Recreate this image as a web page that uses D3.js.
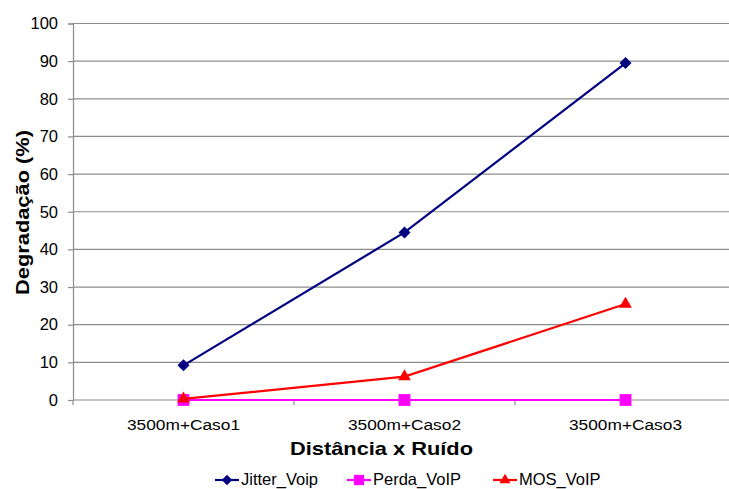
<!DOCTYPE html>
<html>
<head>
<meta charset="utf-8">
<script src="https://cdn.jsdelivr.net/npm/d3@7"></script>
<style>
  body { margin: 0; background: #fff; }
  text { font-family: Arial, "Liberation Sans", sans-serif; fill: #000; }
</style>
</head>
<body>
<svg id="chart" width="729" height="489"></svg>
<script>
const categories = ["3500m+Caso1", "3500m+Caso2", "3500m+Caso3"];
const jitterVoip = [9.2, 44.5, 89.5];
const perdaVoip = [0, 0, 0];
const mosVoip = [0.3, 6.2, 25.5];
const yTicks = [0, 10, 20, 30, 40, 50, 60, 70, 80, 90, 100];

// diamond = square turned 45 degrees
const series = [
  { name: "Jitter_Voip", values: jitterVoip, color: "#000080", marker: d3.symbolSquare, size: 72, rot: 45 },
  { name: "Perda_VoIP", values: perdaVoip, color: "#FF00FF", marker: d3.symbolSquare, size: 140, rot: 0 },
  { name: "MOS_VoIP", values: mosVoip, color: "#FF0000", marker: d3.symbolTriangle, size: 70, rot: 0 }
];

const svg = d3.select("#chart");
const margin = { top: 23.5, left: 73, bottom: 400, right: 736 };

// scales
const x = d3.scaleBand().domain(categories).range([margin.left, margin.right]);
const y = d3.scaleLinear().domain([0, 100]).range([margin.bottom, margin.top]);

// gridlines
svg.append("g")
  .selectAll("line")
  .data(yTicks)
  .join("line")
  .attr("x1", margin.left)
  .attr("x2", margin.right)
  .attr("y1", d => y(d))
  .attr("y2", d => y(d))
  .attr("stroke", "#8c8c8c")
  .attr("stroke-width", 1.2);

// y axis
const yAxis = svg.append("g")
  .attr("transform", `translate(${margin.left},0)`)
  .call(d3.axisLeft(y).tickValues(yTicks).tickSize(5).tickPadding(10));
yAxis.select(".domain").attr("stroke", "#8c8c8c").attr("stroke-width", 1.2);
yAxis.selectAll(".tick line").attr("stroke", "#8c8c8c").attr("stroke-width", 1.2);
yAxis.selectAll(".tick text")
  .style("font-size", "16.5px")
  .style("font-family", "Arial, 'Liberation Sans', sans-serif")
  .attr("fill", "#000");

// x axis
const xAxis = svg.append("g")
  .attr("transform", `translate(0,${margin.bottom})`)
  .call(d3.axisBottom(x).tickSize(0).tickPadding(19));
xAxis.select(".domain").remove();
xAxis.selectAll(".tick text")
  .style("font-size", "15.5px")
  .style("font-family", "Arial, 'Liberation Sans', sans-serif")
  .attr("textLength", 113)
  .attr("lengthAdjust", "spacingAndGlyphs")
  .attr("fill", "#000");

// x tick marks at category boundaries
const bounds = categories.map(c => x(c)).concat([margin.right]);
svg.append("g")
  .selectAll("line")
  .data(bounds)
  .join("line")
  .attr("x1", d => d)
  .attr("x2", d => d)
  .attr("y1", margin.bottom)
  .attr("y2", margin.bottom + 5)
  .attr("stroke", "#8c8c8c")
  .attr("stroke-width", 1.2);

// series lines and markers
const line = d3.line()
  .x((d, i) => x(categories[i]) + x.bandwidth() / 2)
  .y(d => y(d));

series.forEach(s => {
  svg.append("path")
    .datum(s.values)
    .attr("d", line)
    .attr("fill", "none")
    .attr("stroke", s.color)
    .attr("stroke-width", 2.2);
  svg.append("g")
    .selectAll("path")
    .data(s.values)
    .join("path")
    .attr("transform", (d, i) => `translate(${x(categories[i]) + x.bandwidth() / 2},${y(d)}) rotate(${s.rot})`)
    .attr("d", d3.symbol().type(s.marker).size(s.size))
    .attr("fill", s.color);
});

// axis titles
svg.append("text")
  .attr("transform", "translate(29,212.5) rotate(-90)")
  .attr("text-anchor", "middle")
  .attr("textLength", 165)
  .attr("lengthAdjust", "spacingAndGlyphs")
  .style("font-size", "19px")
  .style("font-weight", "bold")
  .text("Degradação (%)");

svg.append("text")
  .attr("x", 381.5)
  .attr("y", 455)
  .attr("text-anchor", "middle")
  .attr("textLength", 183)
  .attr("lengthAdjust", "spacingAndGlyphs")
  .style("font-size", "19px")
  .style("font-weight", "bold")
  .text("Distância x Ruído");

// legend
const legendX = [215, 347, 493];
const legend = svg.append("g");
series.forEach((s, i) => {
  const g = legend.append("g").attr("transform", `translate(${legendX[i]},480)`);
  g.append("line")
    .attr("x1", 0).attr("x2", 24)
    .attr("y1", 0).attr("y2", 0)
    .attr("stroke", s.color)
    .attr("stroke-width", 2.2);
  g.append("path")
    .attr("transform", `translate(12,0) rotate(${s.rot})`)
    .attr("d", d3.symbol().type(s.marker).size(s.size * 0.75))
    .attr("fill", s.color);
  g.append("text")
    .attr("x", 26)
    .attr("y", 5)
    .style("font-size", "16.5px")
    .text(s.name);
});
</script>
</body>
</html>
